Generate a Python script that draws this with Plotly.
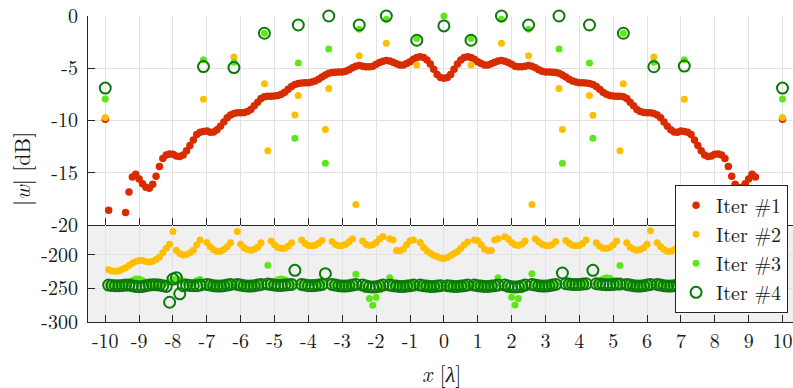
import plotly.graph_objects as go

# ---------------- data ----------------
x_el = [-10.0, -9.9, -9.8, -9.7, -9.6, -9.5, -9.4, -9.3, -9.2, -9.1,
        -9.0, -8.9, -8.8, -8.7, -8.6, -8.5, -8.4, -8.3, -8.2, -8.1,
        -8.0, -7.9, -7.8, -7.7, -7.6, -7.5, -7.4, -7.3, -7.2, -7.1,
        -7.0, -6.9, -6.8, -6.7, -6.6, -6.5, -6.4, -6.3, -6.2, -6.1,
        -6.0, -5.9, -5.8, -5.7, -5.6, -5.5, -5.4, -5.3, -5.2, -5.1,
        -5.0, -4.9, -4.8, -4.7, -4.6, -4.5, -4.4, -4.3, -4.2, -4.1,
        -4.0, -3.9, -3.8, -3.7, -3.6, -3.5, -3.4, -3.3, -3.2, -3.1,
        -3.0, -2.9, -2.8, -2.7, -2.6, -2.5, -2.4, -2.3, -2.2, -2.1,
        -2.0, -1.9, -1.8, -1.7, -1.6, -1.5, -1.4, -1.3, -1.2, -1.1,
        -1.0, -0.9, -0.8, -0.7, -0.6, -0.5, -0.4, -0.3, -0.2, -0.1,
        0.0,
        0.1, 0.2, 0.3, 0.4, 0.5, 0.6, 0.7, 0.8, 0.9, 1.0,
        1.1, 1.2, 1.3, 1.4, 1.5, 1.6, 1.7, 1.8, 1.9, 2.0,
        2.1, 2.2, 2.3, 2.4, 2.5, 2.6, 2.7, 2.8, 2.9, 3.0,
        3.1, 3.2, 3.3, 3.4, 3.5, 3.6, 3.7, 3.8, 3.9, 4.0,
        4.1, 4.2, 4.3, 4.4, 4.5, 4.6, 4.7, 4.8, 4.9, 5.0,
        5.1, 5.2, 5.3, 5.4, 5.5, 5.6, 5.7, 5.8, 5.9, 6.0,
        6.1, 6.2, 6.3, 6.4, 6.5, 6.6, 6.7, 6.8, 6.9, 7.0,
        7.1, 7.2, 7.3, 7.4, 7.5, 7.6, 7.7, 7.8, 7.9, 8.0,
        8.1, 8.2, 8.3, 8.4, 8.5, 8.6, 8.7, 8.8, 8.9, 9.0,
        9.1, 9.2, 9.3, 9.4, 9.5, 9.6, 9.7, 9.8, 9.9, 10.0]

iter1_db = [-9.88, -18.6, -22.0, -24.0, -23.0, -21.0, -18.8, -16.85, -15.4, -15.15,
            -15.6, -16.05, -16.4, -16.5, -16.1, -15.35, -14.4, -13.65, -13.3, -13.2,
            -13.24, -13.4, -13.45, -13.3, -12.9, -12.4, -11.87, -11.34, -11.12, -11.05,
            -11.02, -11.12, -11.1, -10.9, -10.55, -10.15, -9.75, -9.48, -9.33, -9.25,
            -9.25, -9.23, -9.15, -8.95, -8.6, -8.25, -7.9, -7.72, -7.68, -7.68,
            -7.66, -7.62, -7.5, -7.3, -7.02, -6.75, -6.55, -6.46, -6.42, -6.4,
            -6.38, -6.32, -6.22, -6.05, -5.84, -5.64, -5.47, -5.4, -5.38, -5.37,
            -5.35, -5.3, -5.15, -4.96, -4.8, -4.75, -4.8, -4.85, -4.86, -4.8,
            -4.62, -4.45, -4.32, -4.27, -4.3, -4.42, -4.58, -4.69, -4.68, -4.55,
            -4.37, -4.15, -3.98, -3.9, -3.98, -4.2, -4.6, -5.1, -5.6, -5.88,
            -5.95,
            -5.88, -5.6, -5.1, -4.6, -4.2, -3.98, -3.9, -3.98, -4.15, -4.37,
            -4.55, -4.68, -4.69, -4.58, -4.42, -4.3, -4.27, -4.32, -4.45, -4.62,
            -4.8, -4.86, -4.85, -4.8, -4.75, -4.8, -4.96, -5.15, -5.3, -5.35,
            -5.37, -5.38, -5.4, -5.47, -5.64, -5.84, -6.05, -6.22, -6.32, -6.38,
            -6.4, -6.42, -6.46, -6.55, -6.75, -7.02, -7.3, -7.5, -7.62, -7.66,
            -7.68, -7.68, -7.72, -7.9, -8.25, -8.6, -8.95, -9.15, -9.23, -9.25,
            -9.25, -9.33, -9.48, -9.75, -10.15, -10.55, -10.9, -11.1, -11.12, -11.02,
            -11.05, -11.12, -11.34, -11.87, -12.4, -12.9, -13.3, -13.45, -13.4, -13.24,
            -13.2, -13.3, -13.65, -14.4, -15.35, -16.1, -16.5, -16.4, -16.05, -15.6,
            -15.15, -15.4, -16.85, -18.8, -21.0, -23.0, -24.0, -22.0, -18.6, -9.88]

iter2_db = [-9.72, -222, -224, -224.5, -223.5, -221.5, -219, -216, -212.5, -210,
            -208.5, -208.5, -210, -210.5, -209.5, -207, -203, -197, -190, -184,
            -165, -193, -198, -200, -199.5, -197, -193, -185, -178, -7.98,
            -181.5, -188, -192.5, -194.5, -194.5, -192, -188, -182, -3.93, -165,
            -184, -189.5, -192, -193, -191.5, -188.5, -182, -6.49, -12.89, -179.5,
            -185, -189, -190.5, -190, -187, -182, -9.47, -7.6, -178, -183,
            -186, -186.5, -185.5, -182.5, -178.5, -10.86, -6.93, -180, -184.5, -186.5,
            -186, -184, -180.5, -176, -18.05, -3.8, -179.5, -184, -186, -185,
            -181.5, -176.5, -172.5, -2.6, -176, -178, -193.5, -194, -191.5, -185,
            -179, -178, -4.69, -181.5, -189, -194, -197.5, -200.5, -202.5, -204.5,
            -205.5,
            -204, -201, -198, -195, -190, -185, -181, -4.69, -178, -179,
            -185, -191.5, -194, -193.5, -178, -176, -2.6, -173, -176.5, -181.5,
            -185, -186, -184, -179.5, -3.8, -18.05, -176, -180.5, -184, -186,
            -186.5, -184.5, -180, -6.93, -10.86, -178.5, -182.5, -185.5, -186.5, -186,
            -183, -178, -7.6, -9.5, -182, -187, -190, -190.5, -189, -185,
            -179.5, -12.89, -6.49, -182, -188.5, -191.5, -193, -192, -189.5, -184,
            -164, -3.93, -182, -188, -192, -194.5, -194.5, -192.5, -188, -181.5,
            -7.98, -178, -185, -193, -197, -199.5, -200, -198, -193, -165,
            -184, -190, -197, -203, -207, -209.5, -210.5, -210, -208.5, -208.5,
            -210, -212.5, -216, -219, -221.5, -223.5, -224.5, -224, -222, -9.72]

iter3_db = [-7.95, -245, -245, -245.5, -245.5, -245, -244, -242, -238, -236,
            -236, -238, -242, -244, -245, -245, -245, -244, -242, -240,
            -237, -236, -237, -239, -242, -244, -242, -238, -236.8, -4.18,
            -244, -245, -246, -246, -246, -245.5, -245, -244, -4.43, -244,
            -245, -246, -246, -246, -245.5, -245, -244, -1.65, -215.5, -243,
            -240, -237, -236, -237, -240, -243, -11.7, -4.5, -243, -242,
            -241, -241, -241.5, -242, -243, -14.1, -3.17, -244, -245, -246,
            -246, -245.5, -245, -244, -229, -1.27, -247, -252, -265, -275,
            -263, -252, -246, -0.32, -234, -245, -246, -246.5, -247, -246.5,
            -246, -245, -2.16, -245, -246, -246.5, -247, -247, -246.5, -246,
            0.0,
            -246, -246.5, -247, -247, -246.5, -246, -245, -2.16, -245, -246,
            -246.5, -247, -246.5, -246, -245, -234, -0.32, -246, -252, -263,
            -274.5, -265, -252, -247, -1.27, -228, -244, -245, -246, -246,
            -245.5, -245, -244, -3.17, -14.1, -243, -242, -241, -241, -241.5,
            -242, -243, -4.5, -11.7, -243, -240, -236, -234, -235, -238,
            -242, -215.7, -1.65, -244, -245, -246, -246, -246, -245.5, -245,
            -244, -4.43, -244, -245, -246, -246, -245, -243, -241, -240,
            -4.18, -237, -238, -242, -244, -239, -237, -236, -237, -240,
            -242, -244, -245, -245, -245, -244, -242, -238, -236, -236,
            -238, -242, -244, -245, -245.5, -245.5, -245, -245, -245, -7.95]

iter4_db = [-6.9, -245, -245.5, -246, -246, -245.5, -245, -245, -246, -247,
            -247.5, -247, -246, -245, -244.5, -244.5, -245, -246, -247, -270.6,
            -236, -234, -258, -246, -245, -245.5, -246, -246, -245, -4.84,
            -244, -245, -246, -246.5, -246.5, -246, -245, -244, -4.94, -244,
            -245, -246, -246.5, -246.5, -246, -245, -244, -1.65, -243.5, -244,
            -245, -245.5, -245.5, -245, -244.5, -244, -223, -0.86, -244, -245,
            -246, -246, -245.5, -245, -244, -228, 0.0, -244, -245, -246,
            -246.5, -246.5, -246, -245, -244, -0.86, -245, -246.5, -247.5, -248,
            -247.5, -246.5, -245, 0.0, -245, -246, -246.5, -247, -247, -246.5,
            -246, -245, -2.32, -245, -246, -246.5, -247, -247, -246.5, -246,
            -0.95,
            -246, -246.5, -247, -247, -246.5, -246, -245, -2.32, -245, -246,
            -246.5, -247, -247, -246.5, -246, -245, 0.0, -245, -246.5, -247.5,
            -248, -247.5, -246.5, -245, -0.86, -244, -245, -246, -246.5, -246.5,
            -246, -245, -244, 0.0, -227, -243, -243.5, -244, -244, -244,
            -243.5, -243, -0.86, -223, -243, -243.5, -244, -244.5, -244.5, -244,
            -243.5, -243.5, -1.65, -244, -245, -246, -246.5, -246.5, -246, -245,
            -244, -4.86, -244, -245, -246, -246.5, -246.5, -246, -245, -244,
            -4.79, -245, -246, -246, -245.5, -245, -246, -258, -234, -236,
            -270.6, -247, -246, -245, -244.5, -244.5, -245, -246, -247, -247.5,
            -247, -246, -245, -245, -245.5, -246, -246, -245.5, -245, -6.9]

series_names = ["Iter #1", "Iter #2", "Iter #3", "Iter #4"]

x_tickvals = [-10, -9, -8, -7, -6, -5, -4, -3, -2, -1, 0, 1, 2, 3, 4, 5, 6, 7, 8, 9, 10]
x_ticktext = ["-10", "-9", "-8", "-7", "-6", "-5", "-4", "-3", "-2", "-1", "0",
              "1", "2", "3", "4", "5", "6", "7", "8", "9", "10"]
y_top_tickvals = [0, -5, -10, -15, -20]
y_top_ticktext = ["0", "-5", "-10", "-15", "-20"]
y_bot_tickvals = [-200, -250, -300]
y_bot_ticktext = ["-200", "-250", "-300"]

# ---------------- styling ----------------
FONT = "Latin Modern Roman"
AX = "#262626"
TXT = "#1a1a1a"
GRID = "#e2e2e2"
TOP_RANGE = [-20, 0]
BOT_RANGE = [-300, -155.4]

styles = [
    dict(symbol="circle", size=7.5, color="#d92b00"),
    dict(symbol="circle", size=7, color="#ffbf00"),
    dict(symbol="circle", size=7, color="#5fe61a"),
    dict(symbol="circle-open", size=11, color="#0a7a0a", line=dict(width=2, color="#0a7a0a")),
]

fig = go.Figure()
all_series = [iter1_db, iter2_db, iter3_db, iter4_db]

for name, ys, st in zip(series_names, all_series, styles):
    xt = [x for x, y in zip(x_el, ys) if TOP_RANGE[0] <= y <= TOP_RANGE[1]]
    yt = [y for y in ys if TOP_RANGE[0] <= y <= TOP_RANGE[1]]
    xb = [x for x, y in zip(x_el, ys) if BOT_RANGE[0] <= y <= BOT_RANGE[1]]
    yb = [y for y in ys if BOT_RANGE[0] <= y <= BOT_RANGE[1]]
    fig.add_trace(go.Scatter(x=xt, y=yt, mode="markers", name=name, legendgroup=name,
                             marker=st, cliponaxis=False, xaxis="x", yaxis="y"))
    fig.add_trace(go.Scatter(x=xb, y=yb, mode="markers", name=name, legendgroup=name,
                             showlegend=False, marker=st, xaxis="x2", yaxis="y2"))

split = 0.3172
tickfont = dict(family=FONT, size=20, color=TXT)
common_x = dict(range=[-10.51, 10.31], tickvals=x_tickvals, ticktext=x_ticktext,
                ticks="inside", ticklen=7, tickcolor=AX, showline=True, linecolor=AX,
                linewidth=1, showgrid=True, gridcolor=GRID, gridwidth=1, zeroline=False,
                tickfont=tickfont, ticklabeloverflow="allow")
common_y = dict(ticks="inside", ticklen=7, tickcolor=AX, showline=True, linecolor=AX,
                linewidth=1, showgrid=True, gridcolor=GRID, gridwidth=1, zeroline=False,
                ticklabelstandoff=5, tickfont=tickfont, ticklabeloverflow="allow")

fig.update_layout(
    width=793, height=388,
    margin=dict(l=88, r=0, t=13, b=66),
    paper_bgcolor="white", plot_bgcolor="white",
    font=dict(family=FONT, size=20, color=TXT),
    xaxis=dict(common_x, domain=[0, 1], anchor="y", showticklabels=False, matches="x2"),
    xaxis2=dict(common_x, domain=[0, 1], anchor="y2", ticklabelstandoff=1),
    yaxis=dict(common_y, domain=[split, 1], range=TOP_RANGE, anchor="x",
               tickvals=y_top_tickvals, ticktext=y_top_ticktext),
    yaxis2=dict(common_y, domain=[0, split], range=BOT_RANGE, anchor="x2",
                tickvals=y_bot_tickvals, ticktext=y_bot_ticktext),
    showlegend=True,
    legend=dict(x=0.993, y=0.03, xanchor="right", yanchor="bottom",
                bgcolor="white", bordercolor=AX, borderwidth=1,
                font=dict(family=FONT, size=20, color=TXT),
                tracegroupgap=0, itemsizing="trace"),
    shapes=[dict(type="rect", xref="x2 domain", yref="y2 domain", x0=0, x1=1, y0=0, y1=1,
                 fillcolor="#f0f0f0", line=dict(width=0), layer="below")],
    annotations=[
        dict(text="|<i>w</i>| [dB]", xref="paper", yref="paper", x=-0.0965, y=0.5,
             textangle=-90, showarrow=False, xanchor="center", yanchor="middle",
             font=dict(family=FONT, size=22, color=TXT)),
        dict(text="<i>x</i> [<i>λ</i>]", xref="paper", yref="paper", x=0.502, y=-0.165,
             showarrow=False, xanchor="center", yanchor="middle",
             font=dict(family=FONT, size=22, color=TXT)),
    ],
)

fig.write_html("out.html")
